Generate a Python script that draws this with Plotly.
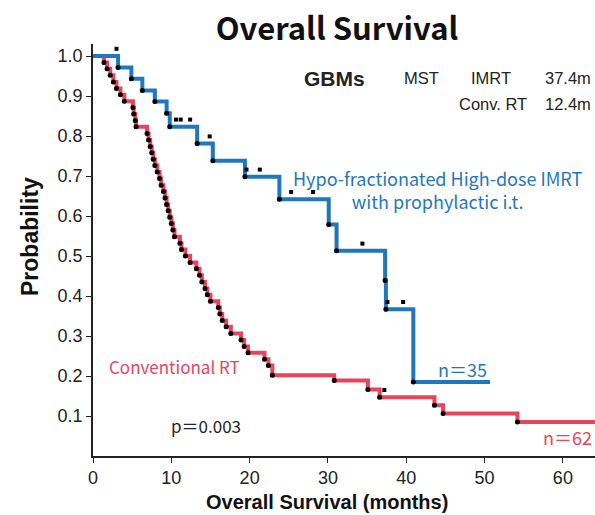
import plotly.graph_objects as go

# ---- data ----
blue_t = [0, 3.2, 4.9, 6.3, 7.9, 9.4, 9.8, 13.3, 15.3, 19.4, 23.8, 30.1, 31.1, 37.3, 37.4, 40.9, 50.7]
blue_s = [1.0, 0.971, 0.943, 0.914, 0.886, 0.857, 0.823, 0.781, 0.738, 0.698, 0.642, 0.579, 0.513, 0.439, 0.367, 0.185, 0.185]
blue_cens_t = [3.0, 10.6, 11.2, 12.4, 14.9, 19.6, 21.3, 25.3, 28.1, 34.4, 37.6, 39.6]
blue_cens_s = [1.0, 0.823, 0.823, 0.823, 0.781, 0.698, 0.698, 0.642, 0.642, 0.513, 0.367, 0.367]

red_t = [0, 1.4, 1.8, 2.2, 2.6, 3.0, 3.5, 4.0, 5.1, 5.2, 5.4, 5.5,
         6.9, 7.1, 7.3, 7.5, 7.7, 7.9, 8.2, 8.5, 8.7, 9.0, 9.2, 9.4, 9.6, 9.8, 10.0, 10.2, 10.4,
         11.1, 11.3, 11.8, 12.4, 13.2, 13.6, 13.9, 14.3, 14.6, 15.0,
         16.0, 16.2, 16.5, 17.0, 17.6, 18.9, 19.3, 19.8, 21.9, 22.4, 22.9,
         30.8, 35.1, 36.6, 43.6, 44.7, 54.2, 66.0]
red_s = [1.0, 0.984, 0.968, 0.952, 0.935, 0.919, 0.903, 0.887, 0.871, 0.855, 0.839, 0.823,
         0.806, 0.790, 0.774, 0.758, 0.742, 0.726, 0.710, 0.694, 0.677, 0.661, 0.645, 0.629, 0.613, 0.597, 0.581, 0.565, 0.548,
         0.532, 0.516, 0.500, 0.484, 0.468, 0.452, 0.435, 0.419, 0.403, 0.387,
         0.371, 0.355, 0.339, 0.323, 0.306, 0.290, 0.274, 0.258, 0.242, 0.226, 0.202,
         0.189, 0.166, 0.147, 0.127, 0.106, 0.085, 0.085]
red_cens_t = [37.2]
red_cens_s = [0.147]

x_ticks = [0, 10, 20, 30, 40, 50, 60]
y_ticks = [0.1, 0.2, 0.3, 0.4, 0.5, 0.6, 0.7, 0.8, 0.9, 1.0]
y_tick_text = ["0.1", "0.2", "0.3", "0.4", "0.5", "0.6", "0.7", "0.8", "0.9", "1.0"]

BLUE = "#1F77BE"
RED = "#E8445C"
CJK = "Noto Sans CJK JP"
SANS = "Liberation Sans, Arial, sans-serif"
CENS_OFF = 0.018

fig = go.Figure()
fig.add_trace(go.Scatter(x=red_t, y=red_s, mode="lines", line=dict(shape="hv", color=RED, width=4),
                         showlegend=False, hoverinfo="skip"))
fig.add_trace(go.Scatter(x=blue_t, y=blue_s, mode="lines", line=dict(shape="hv", color=BLUE, width=4),
                         showlegend=False, hoverinfo="skip"))
# event dots
fig.add_trace(go.Scatter(x=red_t[1:-1], y=red_s[1:-1], mode="markers",
                         marker=dict(color="black", size=5), showlegend=False, hoverinfo="skip"))
fig.add_trace(go.Scatter(x=blue_t[1:-1], y=blue_s[1:-1], mode="markers",
                         marker=dict(color="black", size=5), showlegend=False, hoverinfo="skip"))
# censor marks
fig.add_trace(go.Scatter(x=blue_cens_t + red_cens_t,
                         y=[s + CENS_OFF for s in blue_cens_s + red_cens_s], mode="markers",
                         marker=dict(color="black", size=4, symbol="square"),
                         showlegend=False, hoverinfo="skip"))

def ann(text, x, y, color="#222", size=15, family=CJK, weight=None, xanchor="center",
        yanchor="middle", xref="x", yref="y", textangle=0):
    f = dict(family=family, size=size, color=color)
    if weight:
        f["weight"] = weight
    fig.add_annotation(text=text, x=x, y=y, xref=xref, yref=yref, showarrow=False, borderpad=0,
                       font=f, xanchor=xanchor, yanchor=yanchor, textangle=textangle)

ann("GBMs", 30.8, 0.945, size=21, family=SANS, weight=700)
ann("MST", 42.0, 0.945, size=16.5, family=SANS)
ann("IMRT", 50.8, 0.945, size=16.5, family=SANS)
ann("37.4m", 0.995, 0.945, size=16.5, family=SANS, xanchor="right", xref="paper")
ann("Conv. RT", 51.1, 0.879, size=16.5, family=SANS)
ann("12.4m", 0.995, 0.879, size=16.5, family=SANS, xanchor="right", xref="paper")
ann("Hypo-fractionated High-dose IMRT<br>with prophylactic i.t.", 44.0, 0.666, color=BLUE, size=18)
ann("n＝35", 47.2, 0.217, color=BLUE, size=18)
ann("Conventional RT", 10.4, 0.224, color=RED, size=17)
ann("p＝0.003", 14.4, 0.077, color="#222", size=17)
ann("n＝62", 0.997, 0.047, color=RED, size=18, xanchor="right", xref="paper")
# axis titles (positions given in pixels, converted below)
ann("Overall Survival (months)", 327, 502, color="#111", size=20, family=SANS, weight=700,
    xref="paper", yref="paper")
ann("Probability", 30, 237, color="#111", size=23, family=SANS, weight=700,
    xref="paper", yref="paper", textangle=-90)

L, R, T, B, W, H = 93, 0, 44, 59, 595, 515
for a in fig.layout.annotations[-2:]:
    a.x = (a.x - L) / (W - L - R)
    a.y = (H - B - a.y) / (H - T - B)

fig.update_layout(
    width=W, height=H,
    margin=dict(l=L, r=R, t=T, b=B),
    paper_bgcolor="white", plot_bgcolor="white",
    title=dict(text="Overall Survival", x=337 / W, xref="container", xanchor="center",
               y=1 - 29 / H, yref="container", yanchor="middle",
               font=dict(family=CJK, size=31, color="#111", weight=700)),
    xaxis=dict(range=[0, 64.1], tickvals=x_ticks, showline=True, linecolor="#222", linewidth=1.5,
               ticks="outside", ticklen=5, tickcolor="#222", showgrid=False, zeroline=False,
               tickfont=dict(family=SANS, size=18, color="#222")),
    yaxis=dict(range=[0, 1.03], tickvals=y_ticks, ticktext=y_tick_text, showline=True,
               linecolor="#222", linewidth=1.5, ticks="outside", ticklen=5, tickcolor="#222",
               showgrid=False, zeroline=False,
               tickfont=dict(family=SANS, size=18, color="#222")),
)

fig.write_html("out.html")
